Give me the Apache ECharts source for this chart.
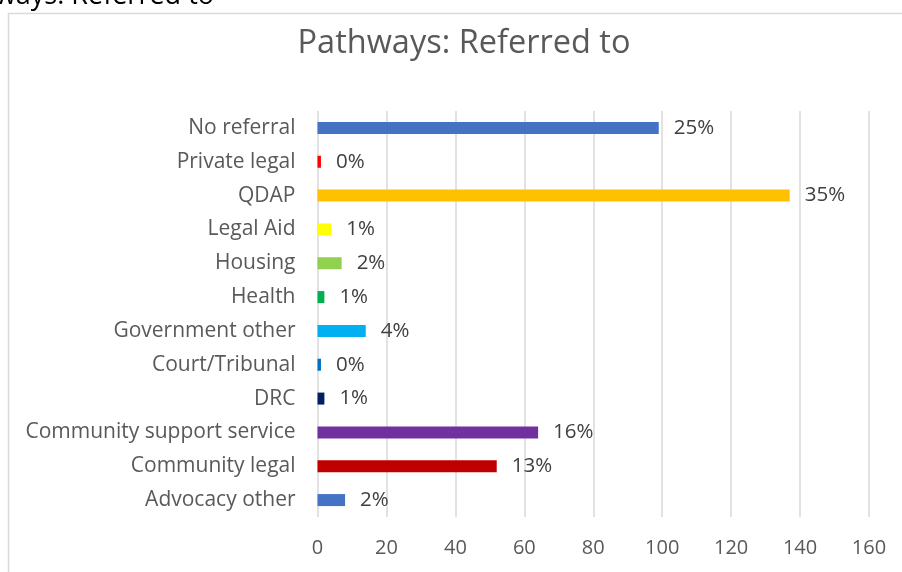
<!DOCTYPE html>
<html>
<head>
<meta charset="utf-8">
<script src="https://cdn.jsdelivr.net/npm/echarts@6/dist/echarts.min.js"></script>
<style>
  html, body { margin: 0; padding: 0; background: #fff; }
  #chart { width: 902px; height: 572px; }
</style>
</head>
<body>
<div id="chart"></div>
<script>
// Referral pathways, listed top to bottom
const categories = [
  'No referral', 'Private legal', 'QDAP', 'Legal Aid', 'Housing', 'Health',
  'Government other', 'Court/Tribunal', 'DRC', 'Community support service',
  'Community legal', 'Advocacy other'
];
// Number of referrals per pathway
const counts = [99, 1, 137, 4, 7, 2, 14, 1, 2, 64, 52, 8];
// Bar colour per pathway
const barColors = [
  '#4472C4', '#FF0000', '#FFC000', '#FFFF00', '#92D050', '#00B050',
  '#00B0F0', '#0070C0', '#002060', '#7030A0', '#C00000', '#4472C4'
];
// Value axis tick settings
const axisMin = 0, axisMax = 160, axisStep = 20;

const total = counts.reduce((a, b) => a + b, 0);
const FONT = '"Open Sans", Lato, sans-serif';

const chart = echarts.init(document.getElementById('chart'), null, { renderer: 'canvas' });

chart.setOption({
  backgroundColor: '#ffffff',
  animation: false,
  title: {
    text: 'Pathways: Referred to',
    left: 459, top: 22, textAlign: 'center',
    textStyle: { fontFamily: FONT, fontSize: 32.5, fontWeight: 'normal', color: '#595959' }
  },
  graphic: [
    {
      type: 'rect', silent: true,
      shape: { x: 8.5, y: 13.5, width: 1000, height: 1000 },
      style: { fill: 'none', stroke: '#d9d9d9', lineWidth: 1.5 }
    },
    {
      type: 'text', silent: true,
      x: 214, y: 10,
      style: {
        text: 'Pathways: Referred to', align: 'right', verticalAlign: 'bottom',
        font: '27px ' + FONT, fill: '#000000'
      }
    }
  ],
  grid: { left: 317.5, right: 33, top: 111, bottom: 55, containLabel: false },
  xAxis: {
    type: 'value', min: axisMin, max: axisMax, interval: axisStep,
    axisLine: { show: false }, axisTick: { show: false },
    axisLabel: { color: '#595959', fontFamily: FONT, fontSize: 20, margin: 21 },
    splitLine: { show: true, lineStyle: { color: '#d9d9d9', width: 1.5 } }
  },
  yAxis: {
    type: 'category', data: categories, inverse: true,
    axisLine: { show: false }, axisTick: { show: false },
    axisLabel: { color: '#595959', fontFamily: FONT, fontSize: 21, margin: 22 }
  },
  series: [{
    type: 'bar',
    barWidth: 12,
    data: counts.map((v, i) => ({ value: v, itemStyle: { color: barColors[i] } })),
    label: {
      show: true, position: 'right', distance: 15,
      color: '#404040', fontFamily: FONT, fontSize: 20.5, padding: [7, 0, 0, 0],
      formatter: p => Math.round(p.value / total * 100) + '%'
    }
  }]
});
</script>
</body>
</html>
